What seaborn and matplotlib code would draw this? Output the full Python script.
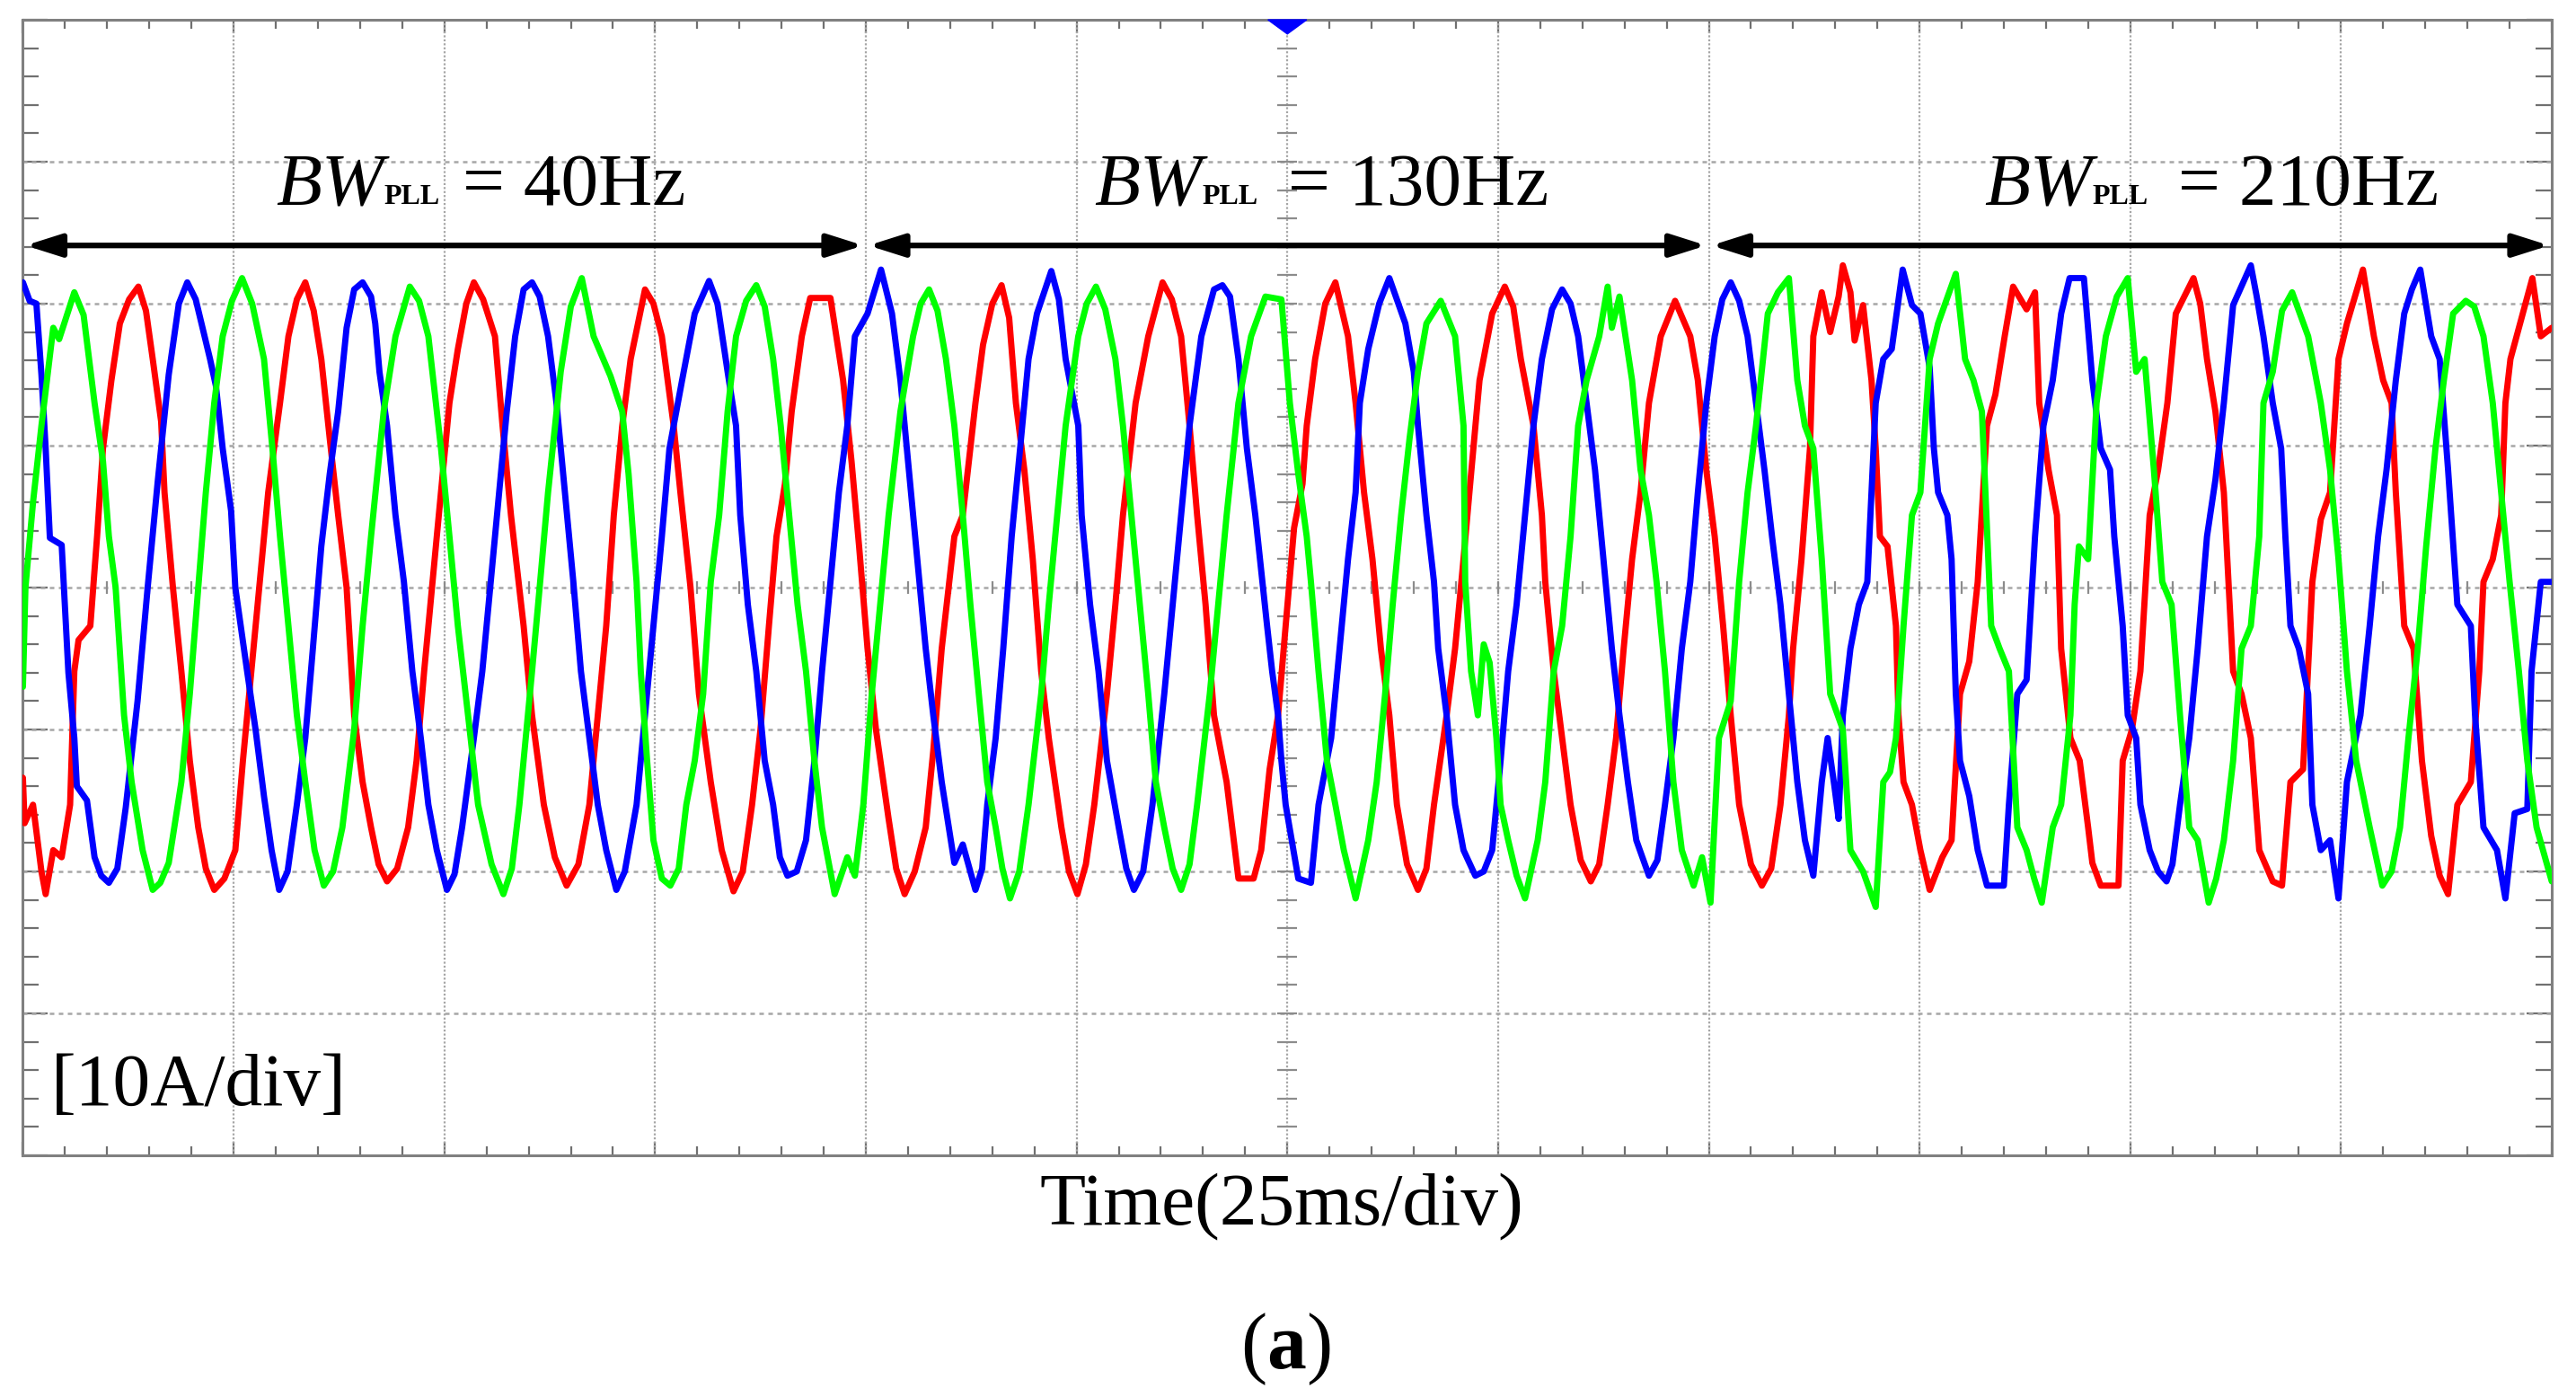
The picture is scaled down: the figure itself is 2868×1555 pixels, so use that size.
import numpy as np
import pandas as pd
import matplotlib
matplotlib.use("Agg")
import matplotlib.pyplot as plt
import seaborn as sns

# three-phase currents: time in ms, current in A
blue_t = [0, 0.8, 1.6, 2.2, 2.7, 3.2, 4.6, 5.4, 6.1, 6.4, 7.6, 8.5, 10.2, 12.2, 13.6, 14.8, 16.0, 17.3, 19.5,
          22.2, 22.9, 23.7, 24.7, 25.2, 26.6, 27.6, 28.6, 29.5, 30.4,
          32.5, 33.5, 34.4, 35.4, 36.4, 37.4, 38.4, 39.3, 40.3, 41.3, 41.8, 42.3, 43.2, 44.2, 45.2, 46.2, 47.2, 48.1, 49.1, 50.3,
          52.1, 53.5, 54.5, 55.5, 56.4, 57.4, 58.4, 59.4, 60.4, 61.3, 62.3, 63.3, 64.3, 65.3, 66.2, 67.2, 68.2, 69.2, 70.4,
          72.8, 73.8, 74.8, 75.8, 76.7, 78.2, 79.7, 81.4, 83.6, 84.6, 85.1, 86.0, 87.0, 88.0, 89.0, 90.7,
          92.9, 93.9, 94.8, 95.8, 96.8, 97.8, 98.7, 100.2, 101.8, 103.1, 104.1, 105.1, 106.1, 107.1, 108.0, 109.0, 110.5, 111.5, 113.0,
          114.4, 115.4, 116.3, 117.3, 118.3, 119.3, 120.3, 122.0, 123.7, 125.2, 125.6, 126.6, 127.6, 128.6, 130.0, 131.8,
          134.0, 135.4, 136.4, 137.4, 138.4, 139.8, 141.3, 142.3, 143.2, 144.2, 145.2, 146.2, 147.6, 148.2, 148.9, 149.3, 149.8, 151.3, 152.8,
          153.7, 155.2, 156.2, 157.2, 158.1, 158.6, 159.6, 162.1, 164.0, 165.0, 165.5, 166.5, 167.4, 167.9, 168.9, 169.9, 170.9, 172.3,
          174.3, 175.3, 176.2, 177.2, 178.2, 179.2, 180.2, 182.6, 184.5, 185.5, 186.5, 187.5, 188.5, 189.4, 190.4, 191.4, 192.9,
          194.8, 195.8, 196.8, 197.8, 198.7, 199.7, 200.7, 202.6, 204.6, 205.6, 206.6, 207.5, 208.5, 209.5, 210.5, 211.4, 212.4,
          213.4, 214.1, 214.9, 215.4, 215.9, 216.8, 217.8, 218.8, 219.3, 219.8, 220.7, 221.7, 223.0, 224.1, 225.1, 226.2, 226.7,
          227.2, 228.3, 228.8, 229.3, 229.8, 230.9, 231.9, 233.0, 235.0,
          235.6, 236.6, 237.7, 238.7, 239.7, 240.8, 241.8, 242.8, 244.5, 245.5, 246.5, 247.6, 248.1, 249.1, 249.7, 250.7, 251.2, 252.3, 254.3,
          255.9, 257.0, 258.0, 259.1, 260.1, 261.1, 262.2, 264.3, 265.8, 266.9, 267.9, 268.4, 269.0, 270.0, 271.1, 271.6, 272.6, 273.7, 274.7,
          275.7, 277.3, 278.4, 279.4, 280.4, 281.5, 282.5, 284.4, 285.7, 286.7, 287.7, 288.8, 290.4, 290.9, 291.9, 293.5, 294.5,
          295.6, 297.1, 297.6, 298.7, 300.0]
blue_i = [21.5, 20.2, 20.0, 15.0, 9.8, 3.5, 3.0, -6.0, -10.6, -14.0, -15.0, -19.0, -20.8, -15.5, -8.0, 0.0, 7.5, 15.0, 21.5,
          16.1, 14.2, 9.8, 5.4, 0.0, -5.9, -10.0, -14.7, -18.5, -21.3,
          -15.3, -10.6, -4.3, 2.9, 8.0, 12.4, 18.3, 21.0, 21.5, 20.5, 18.6, 15.2, 11.4, 5.1, 0.4, -5.9, -10.6, -15.3, -18.5, -21.3,
          -16.9, -10.6, -5.9, 0.4, 6.1, 12.4, 17.7, 21.0, 21.5, 20.5, 17.7, 13.0, 6.7, 0.4, -5.9, -10.6, -15.3, -18.5, -21.3,
          -15.3, -9.0, -2.7, 3.6, 9.8, 14.6, 19.3, 21.6, 15.2, 11.4, 5.1, -1.2, -5.9, -12.2, -15.3, -20.3,
          -17.8, -12.2, -5.9, 0.4, 6.7, 11.4, 17.7, 19.3, 22.4, 19.3, 14.6, 8.3, 2.0, -4.3, -9.0, -13.7, -19.4, -18.1, -21.3,
          -15.3, -10.6, -4.3, 3.6, 9.8, 16.1, 19.3, 22.3, 16.1, 11.4, 5.1, -1.2, -5.9, -12.2, -16.9, -21.3,
          -15.3, -7.5, -1.2, 5.1, 11.4, 17.7, 21.0, 21.3, 20.5, 16.1, 9.8, 5.1, -2.7, -5.9, -9.0, -12.2, -15.3, -20.5, -20.8,
          -15.3, -10.6, -4.3, 2.0, 6.7, 13.0, 16.8, 21.8, 18.6, 15.2, 11.4, 5.1, 0.4, -4.3, -9.0, -15.3, -18.5, -20.3,
          -18.5, -12.2, -5.9, -1.2, 5.1, 11.4, 16.1, 21.0, 17.7, 13.0, 8.3, 2.0, -4.3, -9.0, -13.7, -17.8, -20.3,
          -15.3, -10.6, -4.3, 0.4, 6.7, 13.0, 17.7, 21.5, 17.7, 13.0, 8.3, 3.6, -1.2, -7.5, -13.7, -17.8, -20.3,
          -13.7, -10.6, -14.0, -16.3, -9.0, -4.3, -1.2, 0.4, 6.7, 13.0, 16.1, 16.8, 22.4, 19.9, 19.3, 15.5, 9.8,
          6.7, 5.1, 2.0, -7.5, -12.2, -14.7, -18.5, -21.0, -21.0,
          -15.3, -7.5, -6.5, 3.6, 11.4, 14.6, 19.3, 21.8, 21.8, 14.6, 9.8, 8.3, 3.6, -2.7, -9.0, -10.6, -15.3, -18.5, -20.7,
          -15.3, -10.6, -4.3, 3.6, 7.6, 13.0, 19.9, 22.7, 17.7, 13.0, 9.8, 3.6, -2.7, -4.3, -7.5, -15.3, -18.5, -17.8, -21.9,
          -13.7, -9.0, -2.7, 3.6, 8.3, 14.6, 19.3, 22.4, 17.7, 16.1, 8.3, -1.2, -2.7, -9.0, -16.9, -18.5, -21.9,
          -15.9, -15.6, -5.9, 0.4, 0.4]
# extra points read around the rounded crests / troughs
blue_sh_t = [9.3, 11.2, 18.5, 20.5, 31.4, 51.2, 71.4, 82.4, 89.8, 91.8, 113.8, 122.9, 130.9, 132.9,
             160.9, 173.3, 181.4, 183.6, 193.9, 201.6, 203.6, 253.3, 255.0, 265.0, 283.4]
blue_sh_i = [-20.3, -19.8, 20.0, 20.3, -20.0, -20.2, -20.0, 20.0, -19.0, -20.0, -19.8, 20.3, -19.8, -20.0,
             20.0, -20.0, 19.6, 20.0, -19.2, 20.3, 20.2, -20.0, -19.5, 20.5, 21.0]

green_t = [0, 0.3, 1.2, 2.2, 3.6, 4.3, 6.1, 8.5, 9.5, 10.2, 11.0, 12.0, 12.9, 14.2, 15.4,
           17.3, 18.8, 19.8, 20.8, 21.7, 22.7, 23.7, 26.0,
           28.6, 29.6, 30.5, 31.5, 32.5, 33.5, 35.7,
           37.9, 39.3, 40.3, 41.3, 42.8, 44.2, 45.9,
           48.1, 49.6, 50.6, 51.6, 53.0, 54.0, 57.0,
           58.9, 60.4, 61.3, 62.3, 63.8, 66.3,
           67.7, 69.7, 71.1, 71.85, 72.8, 73.3, 74.05, 74.8, 76.8,
           78.7, 79.7, 80.7, 81.6, 82.6, 83.6, 84.6, 87.0,
           89.0, 89.9, 90.9, 91.9, 92.9, 93.9, 94.8, 96.3, 97.8, 98.7,
           99.7, 100.7, 101.7, 102.7, 104.1, 105.6, 107.5,
           109.5, 110.5, 111.5, 112.4, 113.4, 114.4, 115.4, 117.1,
           119.3, 120.8, 121.7, 122.7, 123.7, 125.2, 127.3,
           129.6, 130.5, 131.5, 132.5, 133.5, 134.4, 135.4, 137.4,
           139.3, 140.8, 141.8, 142.8, 144.2, 145.7, 147.4, 149.3,
           150.3, 151.3, 152.3, 152.8, 153.7, 154.7, 155.7, 156.7, 158.1,
           159.6, 160.6, 161.6, 162.5, 163.5, 164.5, 165.5, 166.5, 168.2,
           169.9, 170.9, 171.1, 171.8, 172.6, 173.3, 174.0, 174.8, 175.3, 176.2, 178.2,
           179.7, 180.6, 181.6, 182.6, 183.6, 184.5, 185.5, 187.0, 188.0, 188.5, 189.4,
           190.9, 191.9, 192.9, 193.8, 194.8, 195.8, 196.8, 198.2, 199.2, 200.2,
           201.2, 202.6, 203.6, 204.6, 205.6, 207.0, 209.5,
           210.5, 211.4, 212.4, 213.4, 214.4, 215.9, 216.8, 218.3, 219.8,
           220.7, 221.5, 222.2, 223.1, 224.1, 225.1, 226.2, 227.2, 229.3,
           230.4, 231.4, 232.4, 233.5, 234.5, 235.6, 236.6, 237.7, 239.5,
           240.8, 241.8, 242.9, 243.4, 243.9, 245.0, 246.0, 247.1, 249.7,
           250.7, 251.7, 252.8, 253.8, 254.9, 255.9, 257.0, 258.0, 259.3,
           261.1, 262.2, 263.2, 264.3, 265.3, 265.8, 266.9, 269.2,
           271.1, 272.6, 273.7, 274.7, 275.7, 276.8, 278.4, 279.9,
           282.0, 283.0, 284.1, 285.1, 286.2, 287.2, 288.3, 289.8,
           291.9, 293.0, 294.0, 295.0, 296.1, 297.1, 298.2, 300.0]
green_i = [-7.0, 0.0, 6.0, 11.4, 18.3, 17.5, 20.8, 13.0, 8.9, 3.6, 0.0, -9.0, -13.7, -18.5, -21.3,
           -19.4, -13.7, -7.5, 0.0, 6.7, 13.0, 17.7, 21.8,
           16.1, 9.8, 3.6, -2.7, -9.0, -13.7, -21.0,
           -16.9, -10.0, -2.7, 3.6, 12.4, 17.7, 21.2,
           17.7, 9.8, 3.6, -2.7, -10.0, -15.3, -21.6,
           -15.3, -5.9, 0.0, 6.7, 15.2, 21.8,
           17.7, 14.9, 12.4, 8.0, 0.4, -5.9, -12.2, -17.8, -21.0,
           -15.3, -12.2, -7.5, 0.4, 5.1, 12.4, 17.7, 21.3,
           16.1, 11.4, 5.1, -1.2, -5.9, -12.2, -16.9, -21.6, -19.0, -20.3,
           -15.3, -7.5, -1.2, 5.1, 12.4, 17.7, 21.0,
           16.1, 11.4, 5.1, -1.2, -7.5, -13.7, -16.9, -21.9,
           -15.3, -7.5, -1.2, 5.1, 11.4, 17.7, 21.2,
           16.1, 11.4, 5.1, -1.2, -7.5, -13.7, -16.9, -21.3,
           -15.3, -7.5, -1.2, 5.1, 13.0, 17.7, 20.5, 20.3,
           13.0, 8.0, 3.6, 0.4, -5.9, -12.2, -15.3, -18.5, -21.9,
           -17.8, -13.7, -7.5, -1.2, 5.1, 10.5, 15.2, 18.6, 20.2,
           17.7, 11.4, 0.4, -5.9, -9.0, -4.0, -5.3, -10.6, -15.3, -17.8, -21.9,
           -17.8, -13.7, -5.9, -2.7, 3.6, 11.4, 14.6, 17.7, 21.2, 18.3, 20.5,
           14.6, 8.3, 5.1, 0.4, -5.9, -13.7, -18.5, -21.0, -19.0, -22.2,
           -10.6, -8.0, 0.4, 6.7, 11.4, 19.3, 21.8,
           14.6, 11.4, 9.8, 2.0, -7.5, -10.0, -18.5, -20.0, -22.5,
           -13.7, -13.0, -10.6, -2.7, 5.1, 6.7, 16.1, 18.6, 22.1,
           16.1, 14.6, 12.4, -2.7, -4.3, -5.9, -16.9, -18.5, -22.2,
           -16.9, -15.3, -9.0, -1.2, 2.9, 2.0, 13.0, 17.7, 21.8,
           15.2, 16.1, 8.3, 0.4, -1.2, -9.0, -16.9, -17.8, -22.2,
           -17.8, -12.2, -4.3, -2.7, 3.6, 13.0, 15.2, 20.8,
           17.7, 13.0, 8.3, 2.0, -5.9, -12.2, -16.9, -21.0,
           -16.9, -10.6, -4.3, 2.9, 9.8, 14.6, 19.3, 20.2,
           17.7, 13.0, 6.7, 0.4, -5.9, -12.2, -16.9, -20.7]
green_sh_t = [7.2, 16.3, 24.8, 27.2, 34.6, 36.8, 47.0, 55.6, 58.0, 65.0, 75.8, 77.8, 85.8, 88.0,
              106.5, 108.5, 116.2, 118.2, 126.2, 128.4, 136.4, 138.4, 177.2, 208.2, 238.6, 248.4,
              260.2, 268.0, 281.0, 290.8]
green_sh_i = [19.2, -20.8, 20.2, 20.0, -18.5, -20.0, 20.2, -19.5, -19.8, 19.8, -20.5, -19.8, 20.2, 19.8,
              20.0, 19.5, -19.8, -20.0, 20.0, 19.6, -19.8, -19.5, -20.3, 20.8, -20.5, 20.5,
              -20.5, 19.5, -20.0, 19.8]

red_t = [0, 0.2, 1.2, 2.2, 2.7, 3.6, 4.6, 5.6, 6.1, 6.6, 8.0, 8.8, 9.5, 10.5, 11.5, 13.7,
         15.4, 16.4, 16.8, 17.8, 18.8, 19.8, 20.8, 22.7,
         25.2, 26.1, 27.1, 28.1, 29.1, 30.5, 31.5, 33.5,
         35.4, 36.4, 37.4, 38.4, 39.3, 40.3, 41.3, 43.2,
         45.7, 46.7, 47.6, 49.1, 50.6, 51.6, 53.5,
         56.0, 56.9, 57.9, 59.4, 60.4, 61.8, 64.5,
         67.2, 68.2, 69.2, 70.1, 71.1, 72.1, 73.8,
         75.8, 77.2, 78.0, 79.2, 80.2, 81.6, 82.9, 84.3,
         86.5, 87.5, 88.5, 89.4, 90.4, 91.2, 92.4, 93.4, 95.8,
         97.3, 98.3, 99.2, 100.2, 101.2, 102.7, 104.6,
         107.1, 108.0, 109.0, 110.5, 111.5, 113.0, 113.9, 116.1,
         117.8, 118.8, 119.8, 120.8, 121.7, 123.2, 125.1,
         127.1, 128.6, 129.6, 130.5, 132.0, 133.5, 135.2,
         137.4, 138.4, 139.3, 140.3, 141.3, 142.8, 144.2, 146.0,
         146.9, 147.9, 148.9, 149.8, 150.8, 151.8, 152.3, 153.3, 155.7,
         157.2, 158.1, 159.1, 160.1, 161.1, 162.1, 163.0, 165.5,
         167.4, 168.9, 169.9, 170.9, 171.6, 172.8, 174.3, 175.8,
         177.7, 179.2, 180.2, 180.6, 181.6, 182.6, 183.6, 186.0,
         188.0, 189.0, 189.9, 190.9, 191.9, 192.9, 194.3, 196.0,
         197.8, 198.7, 199.7, 200.7, 201.7, 202.6, 203.6, 206.3,
         208.5, 209.5, 210.0, 211.0, 212.0, 212.4, 213.4, 214.4, 215.4, 215.9, 216.8, 217.3, 218.3, 219.3,
         219.8, 220.3, 221.2, 222.2, 222.5, 223.1, 224.1, 225.1, 226.2, 227.7, 228.8,
         229.8, 230.9, 231.9, 233.0, 234.0, 235.1, 236.1, 237.7, 238.7,
         239.2, 240.3, 241.3, 241.8, 242.9, 244.0, 245.0, 245.5, 246.5, 248.6,
         249.1, 250.2, 251.2, 252.3, 253.3, 254.4, 255.4, 257.5,
         259.1, 260.1, 261.1, 262.2, 263.2, 264.3, 265.3, 266.9, 268.0,
         269.0, 270.5, 271.6, 272.6, 273.7, 274.2, 274.7, 275.7, 277.6,
         278.9, 280.0, 281.0, 281.5, 282.5, 283.6, 284.6, 285.7, 287.7,
         288.8, 290.4, 291.4, 291.9, 293.0, 294.0, 294.5, 295.1, 297.7, 298.7, 300.0]
red_i = [-13.4, -16.6, -15.3, -20.0, -21.6, -18.5, -19.0, -15.3, -5.9, -3.7, -2.7, 3.6, 9.8, 14.6, 18.6, 21.2,
         16.1, 11.7, 6.7, 0.0, -5.9, -12.2, -16.9, -21.3,
         -18.5, -12.2, -5.9, 0.4, 6.7, 13.0, 17.7, 21.5,
         16.1, 10.5, 5.1, 0.0, -9.0, -13.7, -16.9, -20.7,
         -16.9, -12.2, -5.9, 3.6, 13.0, 16.8, 21.5,
         17.7, 11.4, 5.1, -2.7, -9.0, -15.3, -21.0,
         -15.3, -9.0, -2.7, 5.1, 11.4, 16.1, 21.0,
         17.7, 11.4, 6.7, 0.0, -7.5, -13.7, -18.5, -21.4,
         -15.3, -10.0, -2.7, 3.6, 7.3, 12.4, 17.7, 20.4, 20.4,
         14.6, 8.9, 2.9, -4.3, -10.0, -16.3, -21.6,
         -16.9, -11.5, -4.3, 3.6, 5.1, 13.0, 17.1, 21.3,
         13.0, 8.3, 2.0, -5.9, -10.6, -16.9, -21.6,
         -15.3, -7.5, -1.2, 5.1, 13.0, 17.7, 21.5,
         17.7, 11.4, 5.1, -1.2, -9.0, -13.7, -20.5, -20.5,
         -18.5, -12.8, -9.0, -2.7, 4.2, 7.3, 11.4, 16.1, 21.5,
         17.7, 13.0, 6.7, 2.0, -4.3, -9.0, -15.3, -21.3,
         -15.3, -9.0, -4.3, 2.0, 6.7, 14.6, 19.3, 21.2,
         16.1, 11.4, 5.1, 0.4, -5.9, -10.6, -15.3, -20.7,
         -15.3, -10.6, -4.3, 2.0, 6.7, 13.0, 17.7, 20.2,
         17.7, 14.6, 8.3, 3.6, -2.7, -9.0, -15.3, -21.0,
         -15.3, -9.0, -4.3, 2.0, 9.8, 17.7, 20.8, 18.0, 20.5, 22.7, 20.8, 17.4, 19.9, 14.6,
         9.8, 3.6, 2.9, -2.7, -9.0, -13.7, -15.3, -18.5, -21.3, -19.0, -17.8,
         -7.5, -5.2, 0.4, 11.4, 13.6, 17.7, 21.2, 19.6, 20.8,
         13.0, 8.3, 5.1, -4.3, -10.6, -12.2, -16.9, -19.4, -21.0, -21.0,
         -12.2, -10.0, -5.9, 5.1, 8.3, 13.0, 19.3, 21.8,
         16.1, 12.4, 6.7, -5.9, -7.5, -10.6, -18.5, -20.7, -21.0,
         -13.7, -12.8, 0.4, 4.8, 6.7, 11.4, 16.1, 18.6, 22.4,
         17.7, 14.6, 13.0, 6.7, -2.7, -4.3, -12.2, -17.5, -21.6,
         -15.3, -13.7, -5.9, 0.4, 2.0, 5.1, 13.0, 16.1, 21.8, 17.7, 18.3]
red_sh_t = [12.6, 14.6, 21.7, 23.9, 32.5, 34.5, 42.2, 44.4, 52.6, 54.6, 63.1, 65.9, 74.8, 85.4,
            103.6, 105.8, 115.0, 117.0, 124.1, 126.1, 136.3, 154.5, 164.2, 166.5, 176.8,
            184.8, 187.0, 205.0, 207.4, 258.3, 286.7]
red_sh_i = [20.3, 19.5, -19.8, -20.5, 20.3, 19.5, -19.5, -19.8, 20.0, 20.3, -19.0, -19.5, 20.0, -20.0,
            -19.8, -20.0, 20.0, 19.0, -20.0, -19.5, 20.3, 20.0, -19.5, -19.8, 19.8,
            -19.2, -19.5, -19.5, -19.8, 20.0, -20.3]

# PLL bandwidth steps: segment edges (ms) and labels
seg_edges = [0, 100, 200, 300]
bw_text = ["40Hz", "130Hz", "210Hz"]
bw_left = [30.0, 127.1, 232.7]   # where each label starts, ms
bw_gap = [18, 24, 24]            # space between "PLL" and "=", pt

phase_colors = {"red": "#ff0000", "blue": "#0000ff", "green": "#00ff00"}

df = pd.concat([
    pd.DataFrame({"t": red_t + red_sh_t, "i": red_i + red_sh_i, "phase": "red"}),
    pd.DataFrame({"t": blue_t + blue_sh_t, "i": blue_i + blue_sh_i, "phase": "blue"}),
    pd.DataFrame({"t": green_t + green_sh_t, "i": green_i + green_sh_i, "phase": "green"}),
], ignore_index=True)
df = df.sort_values(["phase", "t"])

sns.set_style("white")
plt.rcParams["font.family"] = ["Liberation Serif", "DejaVu Serif"]
plt.rcParams["text.color"] = "black"

fig = plt.figure(figsize=(28.68, 15.55), dpi=100)
ax = fig.add_axes([0.00889, 0.17299, 0.98170, 0.81286])

# scope graticule
grid_col = "#a6a6a6"
for t in np.arange(25, 300, 25):
    ax.axvline(t, color=grid_col, lw=1.6, ls=(0, (1, 1)), zorder=1)
for v in np.arange(-30, 31, 10):
    ax.axhline(v, color=grid_col, lw=1.8, ls=(0, (2, 2)), zorder=1)
# small marks along the centre cross
ax.plot(np.arange(5, 300, 5), np.zeros(59), ls="none", marker="|", ms=10,
        mew=1.6, color="#8c8c8c", zorder=1)
ax.plot(np.full(39, 150.0), np.arange(-38, 39, 2), ls="none", marker="_", ms=16,
        mew=1.6, color="#8c8c8c", zorder=1)

sns.lineplot(data=df, x="t", y="i", hue="phase", palette=phase_colors,
             hue_order=["red", "blue", "green"], estimator=None, sort=True,
             lw=5, solid_joinstyle="round", legend=False, ax=ax, zorder=3)

ax.set_xlim(0, 300)
ax.set_ylim(-40, 40)
ax.set_xticks(np.arange(0, 301, 25))
ax.set_xticks(np.arange(0, 301, 5), minor=True)
ax.set_yticks(np.arange(-40, 41, 10))
ax.set_yticks(np.arange(-40, 41, 2), minor=True)
ax.tick_params(which="both", direction="in", top=True, right=True, bottom=True, left=True,
               labelbottom=False, labelleft=False, color="#707070", width=1.6)
ax.tick_params(axis="x", which="major", length=11)
ax.tick_params(axis="x", which="minor", length=7)
ax.tick_params(axis="y", which="major", length=20)
ax.tick_params(axis="y", which="minor", length=13)
ax.set_xlabel("")
ax.set_ylabel("")
for s in ax.spines.values():
    s.set_color("#808080")
    s.set_linewidth(2.2)

# trigger marker
ax.fill([147.7, 152.3, 150.0], [40, 40, 39.0], color="#0000ff", clip_on=False, zorder=6)

# bandwidth arrows and labels
for a, b in zip(seg_edges[:-1], seg_edges[1:]):
    ax.annotate("", xy=(b, 24.1), xytext=(a, 24.1),
                arrowprops=dict(arrowstyle="<|-|>,head_length=1.2,head_width=0.38",
                                color="black", lw=4.5, mutation_scale=20,
                                shrinkA=2, shrinkB=2), zorder=5)

for x0, hz, gap in zip(bw_left, bw_text, bw_gap):
    t1 = ax.text(x0, 27.0, "BW", fontsize=60, style="italic", ha="left", va="baseline",
                 color="black", zorder=5)
    t2 = ax.annotate("PLL", xy=(1, 27.0), xycoords=(t1, "data"), fontsize=23, weight="bold",
                     ha="left", va="baseline", color="black", zorder=5)
    ax.annotate("= " + hz, xy=(1, 27.0), xycoords=(t2, "data"), xytext=(gap, 0),
                textcoords="offset points", fontsize=60, ha="left", va="baseline",
                color="black", zorder=5)

fig.text(0.0199, 0.2090, "[10A/div]", fontsize=60, ha="left", va="baseline", color="black")
fig.text(0.4976, 0.1235, "Time(25ms/div)", fontsize=60, ha="center", va="baseline", color="black")

ta = fig.text(0.4993, 0.0206, "a", fontsize=63, weight="bold", ha="center", va="baseline",
              color="black")
ax.annotate("(", xy=(0, 0.0206), xycoords=(ta, "figure fraction"), fontsize=63,
            ha="right", va="baseline", color="black", annotation_clip=False)
ax.annotate(")", xy=(1, 0.0206), xycoords=(ta, "figure fraction"), fontsize=63,
            ha="left", va="baseline", color="black", annotation_clip=False)

fig.savefig("out.png", dpi=100, facecolor="white")
